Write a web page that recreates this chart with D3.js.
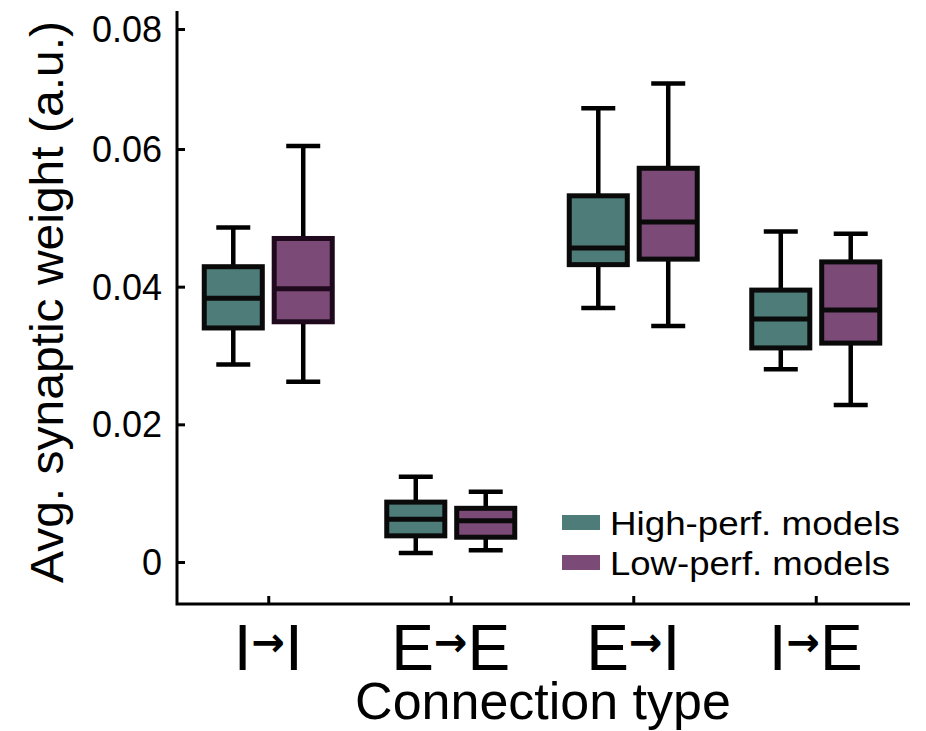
<!DOCTYPE html>
<html>
<head>
<meta charset="utf-8">
<script src="https://cdn.jsdelivr.net/npm/d3@7"></script>
<style>
  body{margin:0;background:#fff;}
  text{font-family:"Liberation Sans",Arial,sans-serif;fill:#000;}
</style>
</head>
<body>
<svg id="chart" width="926" height="731"></svg>
<script>
// connection types and the two model groups
var categories=["I→I","E→E","E→I","I→E"];
var series=["High-perf. models","Low-perf. models"];
var colors=["#4d7c79","#7b4a77"];
var yTicks=[0,0.02,0.04,0.06,0.08];

// box stats per category: [lowWhisker, q1, median, q3, highWhisker]
var highPerf=[
    [0.0287,0.0340,0.0383,0.0429,0.0486],
    [0.0013,0.0038,0.0062,0.0087,0.0124],
    [0.0369,0.0432,0.0456,0.0532,0.0668],
    [0.0280,0.0311,0.0353,0.0395,0.0480]
];
var lowPerf=[
    [0.0262,0.0349,0.0397,0.0470,0.0605],
    [0.0017,0.0036,0.0060,0.0078,0.0102],
    [0.0343,0.0440,0.0494,0.0572,0.0709],
    [0.0228,0.0318,0.0366,0.0436,0.0477]
];

var svg=d3.select("#chart");
var plotL=177,plotR=910,plotB=604,plotT=11;

// the top of the printed axis is squeezed, so the scale has a knee at 0.06
var y=d3.scaleLinear().domain([0,0.06,0.08]).range([562,149,29]);
var x=d3.scalePoint().domain(categories).range([plotL,907]).padding(0.5);
var inner=d3.scaleBand().domain(series).range([-64,64]).paddingInner(0.17);

var rows=[];
categories.forEach(function(c,i){
    rows.push({cat:c,s:series[0],color:colors[0],edge:"#0a0a0a",v:highPerf[i]});
    rows.push({cat:c,s:series[1],color:colors[1],edge:i===0?"#1e0a1c":"#0a0a0a",v:lowPerf[i]});
});

var g=svg.append("g");
var bw=inner.bandwidth();
var box=g.selectAll("g.box").data(rows).enter().append("g")
    .attr("class","box")
    .attr("transform",function(d){return "translate("+(x(d.cat)+inner(d.s)+bw/2)+",0)";});

// whiskers
box.append("line").attr("x1",0).attr("x2",0)
    .attr("y1",function(d){return y(d.v[0]);}).attr("y2",function(d){return y(d.v[4]);})
    .attr("stroke","#000").attr("stroke-width",4.5);
box.selectAll("line.cap").data(function(d){return [d.v[0],d.v[4]];}).enter().append("line")
    .attr("class","cap")
    .attr("x1",-17).attr("x2",17)
    .attr("y1",function(v){return y(v);}).attr("y2",function(v){return y(v);})
    .attr("stroke","#000").attr("stroke-width",4.5);
// box body
box.append("rect")
    .attr("x",-bw/2).attr("width",bw)
    .attr("y",function(d){return y(d.v[3]);})
    .attr("height",function(d){return y(d.v[1])-y(d.v[3]);})
    .attr("fill",function(d){return d.color;})
    .attr("stroke",function(d){return d.edge;}).attr("stroke-width",5);
box.append("line")
    .attr("x1",-bw/2).attr("x2",bw/2)
    .attr("y1",function(d){return y(d.v[2]);}).attr("y2",function(d){return y(d.v[2]);})
    .attr("stroke",function(d){return d.edge;}).attr("stroke-width",5);

// axes
var yAxis=d3.axisLeft(y).tickValues(yTicks).tickSize(-8).tickPadding(15)
    .tickFormat(function(d){return d===0?"0":d3.format(".2f")(d);});
var ya=svg.append("g").attr("transform","translate("+plotL+",0)").call(yAxis);
ya.select(".domain").remove();
ya.selectAll("line").attr("stroke","#000").attr("stroke-width",3);
ya.selectAll("text").style("font-size","36px").attr("dy","0.35em");

var xAxis=d3.axisBottom(x).tickSize(-8).tickFormat("");
var xa=svg.append("g").attr("transform","translate(0,"+plotB+")").call(xAxis);
xa.select(".domain").remove();
xa.selectAll("line").attr("stroke","#000").attr("stroke-width",3);

svg.append("path")
    .attr("d","M"+plotL+","+plotT+"V"+plotB+"H"+plotR)
    .attr("fill","none").attr("stroke","#000").attr("stroke-width",3);

// category labels, arrow drawn smaller
var lab=svg.selectAll("text.cat").data(categories).enter().append("text")
    .attr("class","cat")
    .attr("x",function(d){return x(d);}).attr("y",670)
    .attr("text-anchor","middle").style("font-size","64px");
lab.each(function(d){
    var parts=d.split("→");
    var t=d3.select(this);
    t.append("tspan").text(parts[0]);
    t.append("tspan").text("→").style("font-family","DejaVu Sans").style("font-weight","bold")
        .style("font-size","40px").attr("dy",-14);
    t.append("tspan").text(parts[1]).attr("dy",14);
});

svg.append("text").attr("x",543).attr("y",719).attr("text-anchor","middle")
    .style("font-size","52px").text("Connection type");
svg.append("text").attr("transform","translate(63,302) rotate(-90)").attr("text-anchor","middle")
    .style("font-size","46px").attr("textLength",562).attr("lengthAdjust","spacingAndGlyphs")
    .text("Avg. synaptic weight (a.u.)");

// legend
var leg=svg.selectAll("g.leg").data(series).enter().append("g")
    .attr("class","leg")
    .attr("transform",function(d,i){return "translate(562,"+(515+i*40)+")";});
leg.append("rect").attr("width",38).attr("height",15)
    .attr("fill",function(d,i){return colors[i];});
leg.append("text").attr("x",48).attr("y",20).style("font-size","33px")
    .attr("textLength",function(d,i){return i===0?290:280;}).attr("lengthAdjust","spacingAndGlyphs")
    .text(function(d){return d;});
</script>
</body>
</html>
